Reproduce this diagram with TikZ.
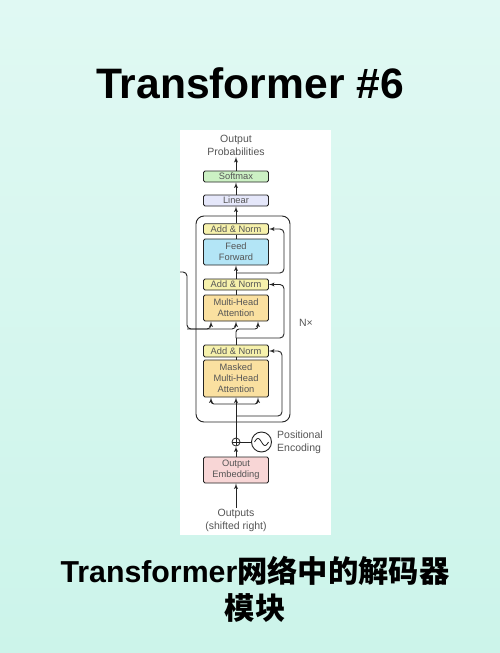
\documentclass[tikz,border=0pt]{standalone}
\usepackage{fontspec}
\setmainfont{Liberation Sans}
\newfontfamily\cjk{Noto Sans CJK SC}
\usetikzlibrary{shapes,arrows}
\definecolor{bgtop}{RGB}{224,249,243}
\definecolor{bgbot}{RGB}{204,244,234}
\definecolor{inkgray}{RGB}{85,85,85}
\definecolor{wirecol}{RGB}{35,35,35}
\definecolor{softmaxgreen}{RGB}{204,241,196}
\definecolor{linearblue}{RGB}{229,231,250}
\definecolor{normyellow}{RGB}{246,241,172}
\definecolor{ffblue}{RGB}{179,229,246}
\definecolor{attnorange}{RGB}{250,224,160}
\definecolor{embedpink}{RGB}{248,214,214}
\tikzstyle{block} = [rectangle, draw=wirecol, line width=0.9pt, rounded corners=1.5pt,
    text=inkgray, minimum width=65pt, inner sep=1pt, align=center,
    font=\fontsize{9.3}{11}\selectfont]
\tikzstyle{textlabel} = [text=inkgray, align=center, inner sep=1pt,
    font=\fontsize{10.5}{13}\selectfont]
\tikzstyle{adder} = [circle, draw=wirecol, line width=0.8pt, minimum size=8pt, inner sep=0pt,
    path picture={\draw[wirecol, line width=0.7pt] (path picture bounding box.north) -- (path picture bounding box.south)
    (path picture bounding box.west) -- (path picture bounding box.east);}]
\tikzstyle{posenc} = [circle, draw=wirecol, line width=0.9pt, minimum size=20pt, inner sep=0pt]
\tikzstyle{line} = [draw=wirecol, line width=0.9pt, -latex']
\tikzstyle{plain} = [draw=wirecol, line width=0.9pt]
\begin{document}
\begin{tikzpicture}[x=1pt, y=-1pt, node distance = 24pt, auto]
    % Background and panel
    \fill[top color=bgtop, bottom color=bgbot] (0,0) rectangle (500,653);
    \useasboundingbox (0,0) rectangle (500,653);
    \fill[white] (180,130) rectangle (331,535);

    % Titles
    \node [anchor=base, font=\fontsize{42.6}{48}\selectfont\bfseries] (title) at (250,98) {Transformer \#6};
    \node [anchor=base, font=\fontsize{30.3}{36}\selectfont\bfseries] (subtitle) at (255,582) {Transformer{\cjk 网络中的解码器}};
    \node [anchor=base, font=\fontsize{30.3}{36}\selectfont\bfseries] (subtitletwo) at (255,619) {{\cjk 模块}};

    % Place nodes
    \node [draw=wirecol, line width=0.9pt, rounded corners=8pt, minimum width=94pt, minimum height=206pt] (nxbox) at (243,319) {};
    \node [block, fill=softmaxgreen, minimum height=11pt] (softmax) at (236,176.5) {Softmax};
    \node [block, fill=linearblue, minimum height=11pt, below of=softmax] (linear) {Linear};
    \node [block, fill=normyellow, minimum height=10.5pt, below of=linear, node distance=28.5pt] (normthree) {Add \& Norm};
    \node [block, fill=ffblue, minimum height=26pt, below of=normthree, node distance=23pt] (feedforward) {Feed\\Forward};
    \node [block, fill=normyellow, minimum height=11pt, below of=feedforward, node distance=32.5pt] (normtwo) {Add \& Norm};
    \node [block, fill=attnorange, minimum height=26pt, below of=normtwo, node distance=23.5pt] (multihead) {Multi-Head\\Attention};
    \node [block, fill=normyellow, minimum height=12pt, below of=multihead, node distance=43pt] (normone) {Add \& Norm};
    \node [block, fill=attnorange, minimum height=37pt, below of=normone, node distance=27.5pt] (masked) {Masked\\Multi-Head\\Attention};
    \node [adder, below of=masked, node distance=63.5pt] (adder) {};
    \node [block, fill=embedpink, minimum height=26pt, below of=adder, node distance=28pt] (embedding) {Output\\Embedding};
    \node [textlabel, below of=embedding, node distance=50pt] (outputs) {Outputs\\(shifted right)};
    \node [textlabel, above of=softmax, node distance=31pt] (probs) {Output\\Probabilities};
    \node [posenc, right of=adder, node distance=25.5pt] (posenc) {};
    \node [textlabel, anchor=west, align=left] (posenclabel) at (276,442) {Positional\\Encoding};
    \node [textlabel] (nx) at (306,323) {N×};

    \coordinate (maskbranch) at (236,404);
    \coordinate (maskres) at (236,416);
    \coordinate (qsplit) at (236,338);
    \coordinate (ffsplit) at (236,273);
    \coordinate (encin) at (180,272);
    \coordinate (encturn) at (187,329);

    % Draw edges
    \path [line] (outputs) -- (embedding);
    \path [line] (embedding) -- (adder);
    \path [line] (adder) -- (masked);
    \path [plain] (adder) -- (posenc);
    \draw [wirecol, line width=0.8pt, shift={(posenc.center)}, domain=-7:7, samples=40] plot (\x, {3.5*sin(\x*180/7)});
    \path [line, rounded corners=3pt] (maskbranch) -| ([xshift=-25pt]masked.south);
    \path [line, rounded corners=3pt] (maskbranch) -| ([xshift=22pt]masked.south);
    \path [line, rounded corners=4pt] (maskres) -| ([xshift=13pt]normone.east) -- (normone.east);
    \path [plain] (masked) -- (normone);
    \path [plain] (normone) -- (qsplit);
    \path [line, rounded corners=4pt] (qsplit) -| ([xshift=15pt]normtwo.east) -- (normtwo.east);
    \path [line, rounded corners=3pt] (qsplit) -- (236,329) -| ([xshift=22pt]multihead.south);
    \path [line, rounded corners=4pt] (encin) -| (encturn) -| ([xshift=-25pt]multihead.south);
    \path [line, rounded corners=4pt] (encturn) -| (multihead.south);
    \path [plain] (multihead) -- (normtwo);
    \path [line] (normtwo) -- (feedforward);
    \path [line, rounded corners=4pt] (ffsplit) -| ([xshift=15pt]normthree.east) -- (normthree.east);
    \path [plain] (feedforward) -- (normthree);
    \path [line] (normthree) -- (linear);
    \path [line] (linear) -- (softmax);
    \path [line] (softmax) -- (probs);
\end{tikzpicture}
\end{document}
